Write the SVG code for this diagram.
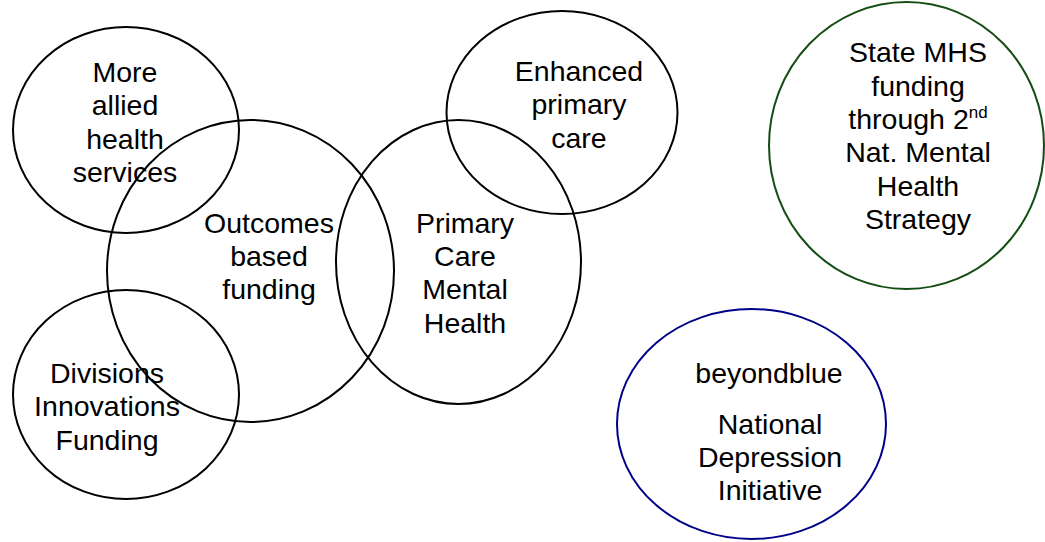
<svg xmlns="http://www.w3.org/2000/svg" width="1045" height="542" viewBox="0 0 1045 542">
<style>
.c{fill:none;stroke:#000;stroke-width:2}
.g{stroke:#144d14}
.b{stroke:#000088}
text{font-family:"Liberation Sans",Arial,sans-serif;font-size:28.5px;fill:#000;text-anchor:middle}
</style>
<rect width="1045" height="542" fill="#fff"/>
<g id="more-allied">
<ellipse class="c" cx="126" cy="130" rx="113" ry="103"/>
<text x="125"><tspan x="125" y="82">More</tspan><tspan x="125" y="115.3">allied</tspan><tspan x="125" y="148.6">health</tspan><tspan x="125" y="182">services</tspan></text>
</g>
<g id="outcomes">
<ellipse class="c" cx="250.5" cy="271" rx="143.5" ry="151"/>
<text><tspan x="269" y="232.7">Outcomes</tspan><tspan x="269" y="266">based</tspan><tspan x="269" y="299.3">funding</tspan></text>
</g>
<g id="divisions">
<ellipse class="c" cx="126" cy="394.5" rx="113" ry="104.5"/>
<text><tspan x="107" y="383">Divisions</tspan><tspan x="107" y="416.3">Innovations</tspan><tspan x="107" y="449.6">Funding</tspan></text>
</g>
<g id="primary-care">
<ellipse class="c" cx="458.5" cy="262" rx="122.5" ry="142"/>
<text><tspan x="465" y="232.7">Primary</tspan><tspan x="465" y="266">Care</tspan><tspan x="465" y="299.3">Mental</tspan><tspan x="465" y="332.6">Health</tspan></text>
</g>
<g id="enhanced">
<ellipse class="c" cx="562" cy="112.5" rx="115.5" ry="101.5"/>
<text><tspan x="579" y="81">Enhanced</tspan><tspan x="579" y="114.3">primary</tspan><tspan x="579" y="147.6">care</tspan></text>
</g>
<g id="state-mhs">
<ellipse class="c g" cx="906.5" cy="145.5" rx="137.5" ry="143.5"/>
<text><tspan x="918" y="62.3">State MHS</tspan><tspan x="918" y="95.6">funding</tspan><tspan x="918" y="129">through 2<tspan font-size="17" dy="-11">nd</tspan></tspan><tspan x="918" y="162.3">Nat. Mental</tspan><tspan x="918" y="195.6">Health</tspan><tspan x="918" y="229">Strategy</tspan></text>
</g>
<g id="beyondblue">
<ellipse class="c b" cx="751.5" cy="424" rx="134.5" ry="115"/>
<text><tspan x="769" y="383">beyondblue</tspan><tspan x="770" y="433.5">National</tspan><tspan x="770" y="466.8">Depression</tspan><tspan x="770" y="500.1">Initiative</tspan></text>
</g>
<g id="connectors"/>
</svg>
